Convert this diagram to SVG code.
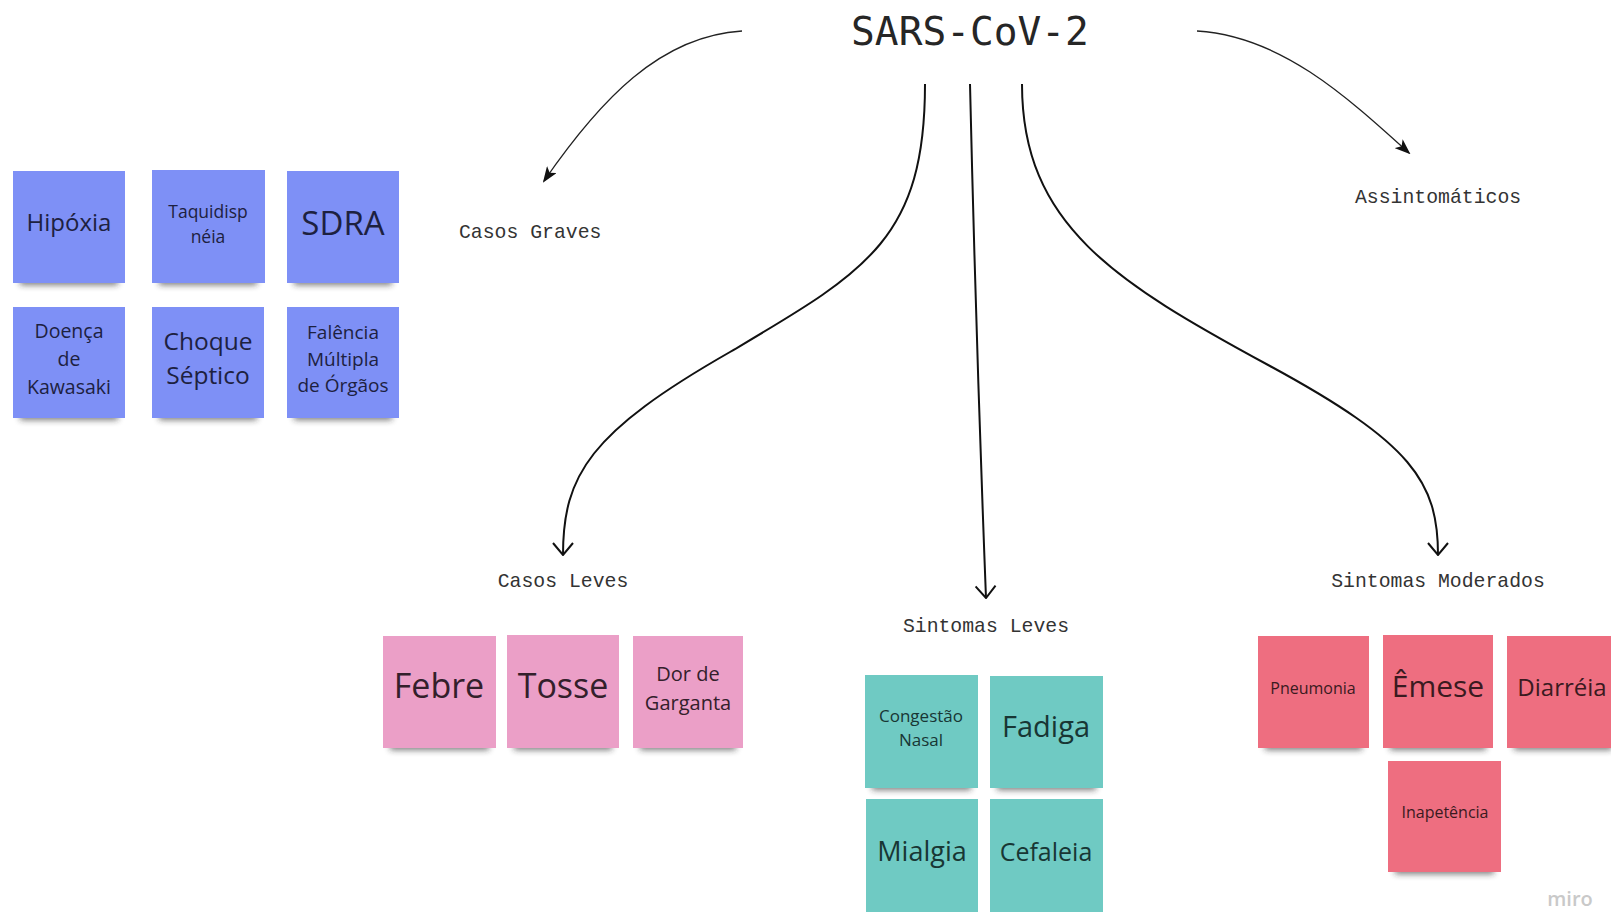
<svg xmlns="http://www.w3.org/2000/svg" width="1611" height="912" viewBox="0 0 1611 912">
<defs>
<style>
.bg{fill:#ffffff}
.title{font-family:"DejaVu Sans Mono","Liberation Mono",monospace;font-size:39.5px;fill:#262626}
.lbl{font-family:"Liberation Mono","DejaVu Sans Mono",monospace;font-size:19.8px;fill:#333}
.nt{font-family:"Open Sans","Noto Sans",sans-serif;text-anchor:middle}
.blue{fill:#7e90f6}
.pink{fill:#eb9fc7}
.teal{fill:#6fcac3}
.red{fill:#ee6e80}
.tb{fill:#1d2140}
.tp{fill:#33202b}
.tt{fill:#183634}
.tr{fill:#3a1a20}
.sh{fill:#222;opacity:0.6;filter:url(#blur)}
.con{fill:none;stroke:#111;stroke-width:2}
.thin{fill:none;stroke:#222;stroke-width:1.3}
.miro{font-family:"Open Sans","Noto Sans",sans-serif;font-size:20px;fill:#c9c9c9;font-weight:600}
</style>
<filter id="blur" x="-20%" y="-100%" width="140%" height="300%"><feGaussianBlur stdDeviation="3"/></filter>
<marker id="tri" viewBox="0 0 16 12" refX="14" refY="6" markerWidth="16" markerHeight="12" markerUnits="userSpaceOnUse" orient="auto"><path d="M0,0 L16,6 L0,12 L4,6 Z" fill="#111"/></marker>
<marker id="vee" viewBox="0 0 14 22" refX="13" refY="11" markerWidth="14" markerHeight="22" markerUnits="userSpaceOnUse" orient="auto"><path d="M1,1 L13,11 L1,21" fill="none" stroke="#111" stroke-width="2"/></marker>
</defs>
<rect class="bg" x="0" y="0" width="1611" height="912"/>

<g id="connectors">
<path class="thin" d="M742,31 C660,36 600,100 544,181" marker-end="url(#tri)"/>
<path class="thin" d="M1197,31 C1280,36 1345,95 1409,153" marker-end="url(#tri)"/>
<path class="con" d="M925,84 C925,240 865,272 730,352 C590,432 563,475 563,555" marker-end="url(#vee)"/>
<path class="con" d="M970,84 Q976,340 986,598" marker-end="url(#vee)"/>
<path class="con" d="M1022,84 C1022,225 1115,282 1270,366 C1412,443 1438,482 1438,555" marker-end="url(#vee)"/>
</g>

<g id="title"><text class="title" x="970" y="45" text-anchor="middle">SARS-CoV-2</text></g>
<g id="label-casos-graves"><text class="lbl" x="459" y="238">Casos Graves</text></g>
<g id="label-assintomaticos"><text class="lbl" x="1355" y="203">Assintomáticos</text></g>
<g id="label-casos-leves"><text class="lbl" x="563" y="587" text-anchor="middle">Casos Leves</text></g>
<g id="label-sintomas-leves"><text class="lbl" x="986" y="632" text-anchor="middle">Sintomas Leves</text></g>
<g id="label-sintomas-moderados"><text class="lbl" x="1438" y="587" text-anchor="middle">Sintomas Moderados</text></g>

<!-- Blue notes -->
<g id="hipoxia"><rect class="sh" x="20" y="275" width="98" height="10"/><rect class="blue" x="13" y="171" width="112" height="112"/><text class="nt tb" x="69" y="231" font-size="24">Hipóxia</text></g>
<g id="taquidispneia"><rect class="sh" x="159" y="275" width="98" height="10"/><rect class="blue" x="152" y="170" width="113" height="113"/><text class="nt tb" x="208" font-size="17.5"><tspan x="208" y="218">Taquidisp</tspan><tspan x="208" y="243">néia</tspan></text></g>
<g id="sdra"><rect class="sh" x="294" y="275" width="98" height="10"/><rect class="blue" x="287" y="171" width="112" height="112"/><text class="nt tb" x="343" y="235" font-size="33">SDRA</text></g>
<g id="kawasaki"><rect class="sh" x="20" y="410" width="98" height="10"/><rect class="blue" x="13" y="307" width="112" height="111"/><text class="nt tb" font-size="19.5"><tspan x="69" y="338">Doença</tspan><tspan x="69" y="366">de</tspan><tspan x="69" y="394">Kawasaki</tspan></text></g>
<g id="choque"><rect class="sh" x="159" y="410" width="98" height="10"/><rect class="blue" x="152" y="307" width="112" height="111"/><text class="nt tb" font-size="24.5"><tspan x="208" y="350">Choque</tspan><tspan x="208" y="384">Séptico</tspan></text></g>
<g id="falencia"><rect class="sh" x="294" y="410" width="98" height="10"/><rect class="blue" x="287" y="307" width="112" height="111"/><text class="nt tb" font-size="19"><tspan x="343" y="339">Falência</tspan><tspan x="343" y="366">Múltipla</tspan><tspan x="343" y="392">de Órgãos</tspan></text></g>

<!-- Pink notes -->
<g id="febre"><rect class="sh" x="390" y="740" width="99" height="10"/><rect class="pink" x="383" y="636" width="113" height="112"/><text class="nt tp" x="439" y="698" font-size="34">Febre</text></g>
<g id="tosse"><rect class="sh" x="514" y="740" width="98" height="10"/><rect class="pink" x="507" y="635" width="112" height="113"/><text class="nt tp" x="563" y="698" font-size="34">Tosse</text></g>
<g id="garganta"><rect class="sh" x="640" y="740" width="96" height="10"/><rect class="pink" x="633" y="636" width="110" height="112"/><text class="nt tp" font-size="20"><tspan x="688" y="681">Dor de</tspan><tspan x="688" y="710">Garganta</tspan></text></g>

<!-- Teal notes -->
<g id="congestao"><rect class="sh" x="872" y="780" width="99" height="10"/><rect class="teal" x="865" y="675" width="113" height="113"/><text class="nt tt" font-size="17"><tspan x="921" y="722">Congestão</tspan><tspan x="921" y="746">Nasal</tspan></text></g>
<g id="fadiga"><rect class="sh" x="997" y="780" width="99" height="10"/><rect class="teal" x="990" y="676" width="113" height="112"/><text class="nt tt" x="1046" y="737" font-size="29">Fadiga</text></g>
<g id="mialgia"><rect class="teal" x="866" y="799" width="112" height="113"/><text class="nt tt" x="922" y="861" font-size="27">Mialgia</text></g>
<g id="cefaleia"><rect class="teal" x="990" y="799" width="113" height="113"/><text class="nt tt" x="1046" y="861" font-size="25">Cefaleia</text></g>

<!-- Red notes -->
<g id="pneumonia"><rect class="sh" x="1265" y="740" width="97" height="10"/><rect class="red" x="1258" y="636" width="111" height="112"/><text class="nt tr" x="1313" y="694" font-size="16">Pneumonia</text></g>
<g id="emese"><rect class="sh" x="1390" y="740" width="96" height="10"/><rect class="red" x="1383" y="635" width="110" height="113"/><text class="nt tr" x="1438" y="697" font-size="30">Êmese</text></g>
<g id="diarreia"><rect class="sh" x="1514" y="740" width="98" height="10"/><rect class="red" x="1507" y="636" width="112" height="112"/><text class="nt tr" x="1562" y="696" font-size="24">Diarréia</text></g>
<g id="inapetencia"><rect class="sh" x="1395" y="864" width="99" height="10"/><rect class="red" x="1388" y="761" width="113" height="111"/><text class="nt tr" x="1445" y="818" font-size="16">Inapetência</text></g>

<g id="watermark"><text class="miro" x="1570" y="906" text-anchor="middle">miro</text></g>
</svg>
